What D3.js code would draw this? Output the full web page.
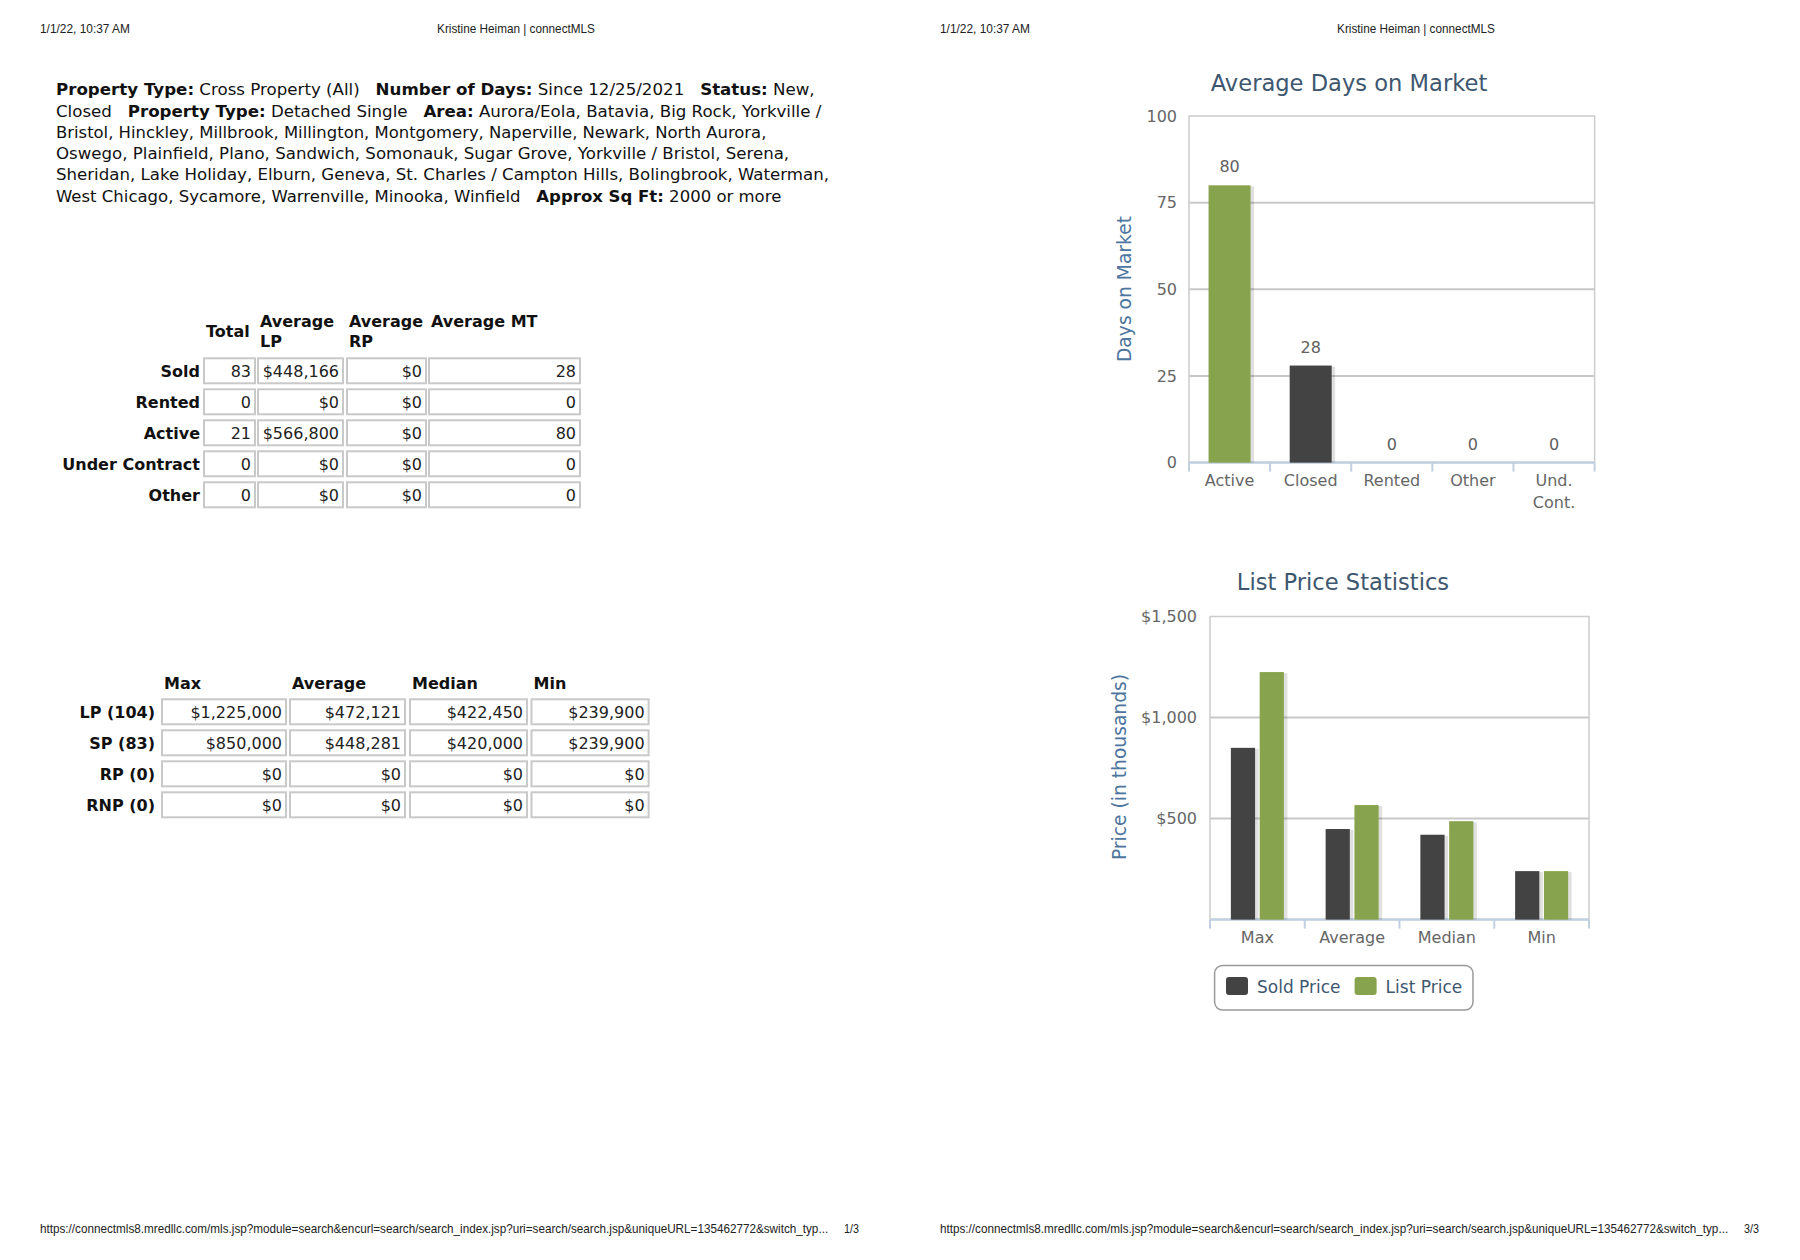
<!DOCTYPE html>
<html><head><meta charset="utf-8">
<script src="https://cdn.jsdelivr.net/npm/d3@7"></script>
<style>html,body{margin:0;padding:0;background:#fff;}svg{display:block}</style>
</head><body>
<svg id="page" width="1800" height="1260"></svg>
<script>
// ---------------- DATA ----------------
const headerDate = "1/1/22, 10:37 AM";
const headerTitle = "Kristine Heiman | connectMLS";
const footerUrl = "https://connectmls8.mredllc.com/mls.jsp?module=search&encurl=search/search_index.jsp?uri=search/search.jsp&uniqueURL=135462772&switch_typ...";
const pageNumbers = ["1/3", "3/3"];

const criteriaLines = [
  "**Property Type:** Cross Property (All)   **Number of Days:** Since 12/25/2021   **Status:** New,",
  "Closed   **Property Type:** Detached Single   **Area:** Aurora/Eola, Batavia, Big Rock, Yorkville /",
  "Bristol, Hinckley, Millbrook, Millington, Montgomery, Naperville, Newark, North Aurora,",
  "Oswego, Plainfield, Plano, Sandwich, Somonauk, Sugar Grove, Yorkville / Bristol, Serena,",
  "Sheridan, Lake Holiday, Elburn, Geneva, St. Charles / Campton Hills, Bolingbrook, Waterman,",
  "West Chicago, Sycamore, Warrenville, Minooka, Winfield   **Approx Sq Ft:** 2000 or more"
];

const statusLabels = ["Sold", "Rented", "Active", "Under Contract", "Other"];
const summaryHeaders = [["Total"], ["Average", "LP"], ["Average", "RP"], ["Average MT"]];
const statusTotals = [83, 0, 21, 0, 0];
const statusAvgLP = [448166, 0, 566800, 0, 0];
const statusAvgRP = [0, 0, 0, 0, 0];
const statusAvgMT = [28, 0, 80, 0, 0];

const priceRowLabels = ["LP (104)", "SP (83)", "RP (0)", "RNP (0)"];
const priceColLabels = ["Max", "Average", "Median", "Min"];
const lpStats = [1225000, 472121, 422450, 239900];
const spStats = [850000, 448281, 420000, 239900];
const rpStats = [0, 0, 0, 0];
const rnpStats = [0, 0, 0, 0];

const domTitle = "Average Days on Market";
const domAxisTitle = "Days on Market";
const domCategories = ["Active", "Closed", "Rented", "Other", "Und. Cont."];
const domValues = [80, 28, 0, 0, 0];
const domTicks = [0, 25, 50, 75, 100];

const priceTitle = "List Price Statistics";
const priceAxisTitle = "Price (in thousands)";
const priceCategories = ["Max", "Average", "Median", "Min"];
const priceSeries = ["Sold Price", "List Price"];
const soldPrice = [850, 448.3, 420, 239.9];
const listPrice = [1225, 566.8, 487, 239.9];
const priceTicks = [500, 1000, 1500];

// ---------------- STYLE ----------------
const GREEN = "#88a34d", DARK = "#434343";
const UI = "'DejaVu Sans', Verdana, sans-serif";
const ARIAL = "'Liberation Sans', Arial, sans-serif";
const svg = d3.select("#page");
const fmtMoney = v => "$" + d3.format(",")(v);

function fitX(sel, targetW) {
  const w = sel.node().getComputedTextLength();
  const k = targetW / w;
  const x = +sel.attr("x"), y = +sel.attr("y");
  sel.attr("x", 0).attr("y", 0).attr("transform", `translate(${x},${y}) scale(${k},1)`);
}

// ---------------- HEADERS / FOOTERS ----------------
[{x: 40, cx: 516}, {x: 940, cx: 1416}].forEach((p, i) => {
  const t1 = svg.append("text").attr("x", p.x).attr("y", 33).attr("font-family", ARIAL)
    .attr("font-size", 12).attr("fill", "#222").text(headerDate);
  fitX(t1, 90);
  const t2 = svg.append("text").attr("x", p.cx).attr("y", 33).attr("text-anchor", "middle")
    .attr("font-family", ARIAL).attr("font-size", 12).attr("fill", "#222").text(headerTitle);
  fitX(t2, 158);
  const t3 = svg.append("text").attr("x", p.x).attr("y", 1233).attr("font-family", ARIAL)
    .attr("font-size", 12).attr("fill", "#222").text(footerUrl);
  fitX(t3, 789);
  const t4 = svg.append("text").attr("x", p.x + 804).attr("y", 1233).attr("font-family", ARIAL)
    .attr("font-size", 12).attr("fill", "#222").text(pageNumbers[i]);
  fitX(t4, 15);
});

// ---------------- CRITERIA PARAGRAPH ----------------
const lineBase = [95, 116.5, 137.7, 159.2, 180.4, 201.8];
const lineW = [759, 766, 711, 734, 774, 726];
criteriaLines.forEach((line, i) => {
  const t = svg.append("text").attr("x", 56).attr("y", lineBase[i])
    .attr("font-family", UI).attr("font-size", 16).attr("fill", "#111");
  line.split("**").forEach((seg, j) => {
    if (!seg) return;
    t.append("tspan").attr("font-weight", j % 2 ? "bold" : "normal")
      .text(seg.replace(/ /g, "\u00a0"));
  });
  fitX(t, lineW[i]);
});

// ---------------- TABLE HELPERS ----------------
function cell(g, x0, x1, yc, txt) {
  g.append("rect").attr("x", x0).attr("y", yc - 12.5).attr("width", x1 - x0).attr("height", 25)
    .attr("fill", "#fff").attr("stroke", "#c9c9c9").attr("stroke-width", 2);
  g.append("text").attr("x", x1 - 4).attr("y", yc + 6).attr("text-anchor", "end")
    .attr("font-family", UI).attr("font-size", 16).attr("fill", "#222").text(txt);
}

// ---------------- SUMMARY TABLE ----------------
const sumCols = [[204, 255], [258, 343], [347, 426], [429, 580]];
const sumRowY = d3.scaleBand().domain(statusLabels).range([355.3, 510.3]);
const gSum = svg.append("g");
summaryHeaders.forEach((h, c) => {
  const yc = h.length === 1 ? (h[0] === "Total" ? 331 : 321) : 321;
  h.forEach((ln, k) => {
    gSum.append("text").attr("x", sumCols[c][0] + 2).attr("y", yc + 6 + k * 20)
      .attr("font-family", UI).attr("font-weight", "bold").attr("font-size", 16)
      .attr("fill", "#111").text(ln);
  });
});
const sumData = statusLabels.map((s, i) => [
  String(statusTotals[i]), fmtMoney(statusAvgLP[i]), fmtMoney(statusAvgRP[i]), String(statusAvgMT[i])
]);
statusLabels.forEach((s, i) => {
  const yc = sumRowY(s) + sumRowY.bandwidth() / 2;
  gSum.append("text").attr("x", 200).attr("y", yc + 6).attr("text-anchor", "end")
    .attr("font-family", UI).attr("font-weight", "bold").attr("font-size", 16)
    .attr("fill", "#111").text(s);
  sumData[i].forEach((v, c) => cell(gSum, sumCols[c][0], sumCols[c][1], yc, v));
});

// ---------------- PRICE TABLE ----------------
const prCols = [[162, 286], [290, 405], [410, 527], [531.5, 648.6]];
const prRowY = d3.scaleBand().domain(priceRowLabels).range([696.3, 820.3]);
const prData = [lpStats, spStats, rpStats, rnpStats];
const gPr = svg.append("g");
priceColLabels.forEach((h, c) => {
  gPr.append("text").attr("x", prCols[c][0] + 2).attr("y", 689)
    .attr("font-family", UI).attr("font-weight", "bold").attr("font-size", 16)
    .attr("fill", "#111").text(h);
});
priceRowLabels.forEach((r, i) => {
  const yc = prRowY(r) + prRowY.bandwidth() / 2;
  gPr.append("text").attr("x", 155).attr("y", yc + 6).attr("text-anchor", "end")
    .attr("font-family", UI).attr("font-weight", "bold").attr("font-size", 16)
    .attr("fill", "#111").text(r);
  prData[i].forEach((v, c) => cell(gPr, prCols[c][0], prCols[c][1], yc, fmtMoney(v)));
});

// ---------------- CHART HELPERS ----------------
function frame(g, c, x, y, gridVals, ncat) {
  g.selectAll("line.grid").data(gridVals).join("line").attr("class", "grid")
    .attr("x1", c.left).attr("x2", c.right).attr("y1", d => y(d)).attr("y2", d => y(d))
    .attr("stroke", "#c8c8c8").attr("stroke-width", 2);
  g.append("rect").attr("x", c.left).attr("y", c.top).attr("width", c.right - c.left)
    .attr("height", c.bottom - c.top).attr("fill", "none").attr("stroke", "#cccccc").attr("stroke-width", 1.5);
  g.selectAll("line.xt").data(d3.range(ncat + 1)).join("line").attr("class", "xt")
    .attr("x1", i => c.left + i * x.step()).attr("x2", i => c.left + i * x.step())
    .attr("y1", c.bottom).attr("y2", c.bottom + 9).attr("stroke", "#c0d0e0").attr("stroke-width", 2);
  g.append("line").attr("x1", c.left).attr("x2", c.right).attr("y1", c.bottom).attr("y2", c.bottom)
    .attr("stroke", "#c0d0e0").attr("stroke-width", 2.5);
}
function styleAxis(ax) {
  ax.select(".domain").remove();
  ax.selectAll("text").attr("font-family", UI).attr("font-size", 16).attr("fill", "#666");
}
function bar(g, x0, yTop, w, yBot, color) {
  if (yBot - yTop <= 0) return;
  g.append("rect").attr("x", x0 + 2).attr("y", yTop + 1).attr("width", w + 1.5).attr("height", yBot - yTop - 1)
    .attr("fill", "#000").attr("opacity", 0.12);
  g.append("rect").attr("x", x0).attr("y", yTop).attr("width", w).attr("height", yBot - yTop).attr("fill", color);
}
function titles(g, title, tx, ty, axisTitle, ax, ay) {
  g.append("text").attr("x", tx).attr("y", ty).attr("text-anchor", "middle")
    .attr("font-family", UI).attr("font-size", 22.6).attr("fill", "#3e576f").text(title);
  g.append("text").attr("transform", `translate(${ax},${ay}) rotate(-90)`).attr("dy", "0.35em")
    .attr("text-anchor", "middle").attr("font-family", UI).attr("font-size", 18.7)
    .attr("fill", "#4d759e").text(axisTitle);
}

// ---------------- CHART 1: Average Days on Market ----------------
const c1 = {left: 1189, right: 1594.6, top: 116, bottom: 462.6};
const x1 = d3.scaleBand().domain(domCategories).range([c1.left, c1.right]);
const y1 = d3.scaleLinear().domain([0, 100]).range([c1.bottom, c1.top]);
const barColor1 = d3.scaleOrdinal().domain(domCategories).range([GREEN, DARK, GREEN, DARK, GREEN]);
const g1 = svg.append("g");
frame(g1, c1, x1, y1, domTicks.filter(t => t > 0 && t < 100), domCategories.length);
domCategories.forEach((cat, i) => {
  const cx = x1(cat) + x1.bandwidth() / 2;
  bar(g1, cx - 21, y1(domValues[i]), 42, y1(0), barColor1(cat));
  g1.append("text").attr("x", cx).attr("y", y1(domValues[i]) - 13).attr("text-anchor", "middle")
    .attr("font-family", UI).attr("font-size", 16).attr("fill", "#606060").text(domValues[i]);
});
const ya1 = g1.append("g").attr("transform", `translate(${c1.left},0)`)
  .call(d3.axisLeft(y1).tickValues(domTicks).tickSize(0).tickPadding(12));
styleAxis(ya1);
const xa1 = g1.append("g").attr("transform", `translate(0,${c1.bottom})`)
  .call(d3.axisBottom(x1).tickSize(0).tickPadding(12));
styleAxis(xa1);
xa1.selectAll(".tick text").each(function(d) {
  const parts = d.split(" ");
  const t = d3.select(this).text(null);
  parts.forEach((p, k) => t.append("tspan").attr("x", 0).attr("dy", k === 0 ? "0.71em" : "1.36em").text(p));
});
titles(g1, domTitle, 1349, 91, domAxisTitle, 1124, 289);

// ---------------- CHART 2: List Price Statistics ----------------
const c2 = {left: 1210, right: 1589, top: 616.5, bottom: 919.6};
const x2 = d3.scaleBand().domain(priceCategories).range([c2.left, c2.right]);
const xs2 = d3.scaleBand().domain(priceSeries).range([-26.5, 26.5]).paddingInner(0.16);
const y2 = d3.scaleLinear().domain([0, 1500]).range([c2.bottom, c2.top]);
const seriesColor = d3.scaleOrdinal().domain(priceSeries).range([DARK, GREEN]);
const seriesVals = [soldPrice, listPrice];
const g2 = svg.append("g");
frame(g2, c2, x2, y2, priceTicks.filter(t => t < 1500), priceCategories.length);
priceCategories.forEach((cat, i) => {
  const cx = x2(cat) + x2.bandwidth() / 2;
  priceSeries.forEach((s, k) => {
    bar(g2, cx + xs2(s), y2(seriesVals[k][i]), xs2.bandwidth(), y2(0), seriesColor(s));
  });
});
const ya2 = g2.append("g").attr("transform", `translate(${c2.left},0)`)
  .call(d3.axisLeft(y2).tickValues(priceTicks).tickFormat(fmtMoney).tickSize(0).tickPadding(13));
styleAxis(ya2);
const xa2 = g2.append("g").attr("transform", `translate(0,${c2.bottom})`)
  .call(d3.axisBottom(x2).tickSize(0).tickPadding(12));
styleAxis(xa2);
titles(g2, priceTitle, 1343, 590, priceAxisTitle, 1119, 767);

// legend
const lg = g2.append("g");
lg.append("rect").attr("x", 1214.6).attr("y", 965.5).attr("width", 258.4).attr("height", 44.5)
  .attr("rx", 8).attr("fill", "#fff").attr("stroke", "#999").attr("stroke-width", 1.5);
const legX = [1226, 1354.6];
priceSeries.forEach((s, k) => {
  lg.append("rect").attr("x", legX[k]).attr("y", 977).attr("width", 22).attr("height", 18)
    .attr("rx", 3).attr("fill", seriesColor(s));
  lg.append("text").attr("x", legX[k] + 31).attr("y", 993).attr("font-family", UI)
    .attr("font-size", 17).attr("fill", "#3e576f").text(s);
});
</script>
</body></html>
